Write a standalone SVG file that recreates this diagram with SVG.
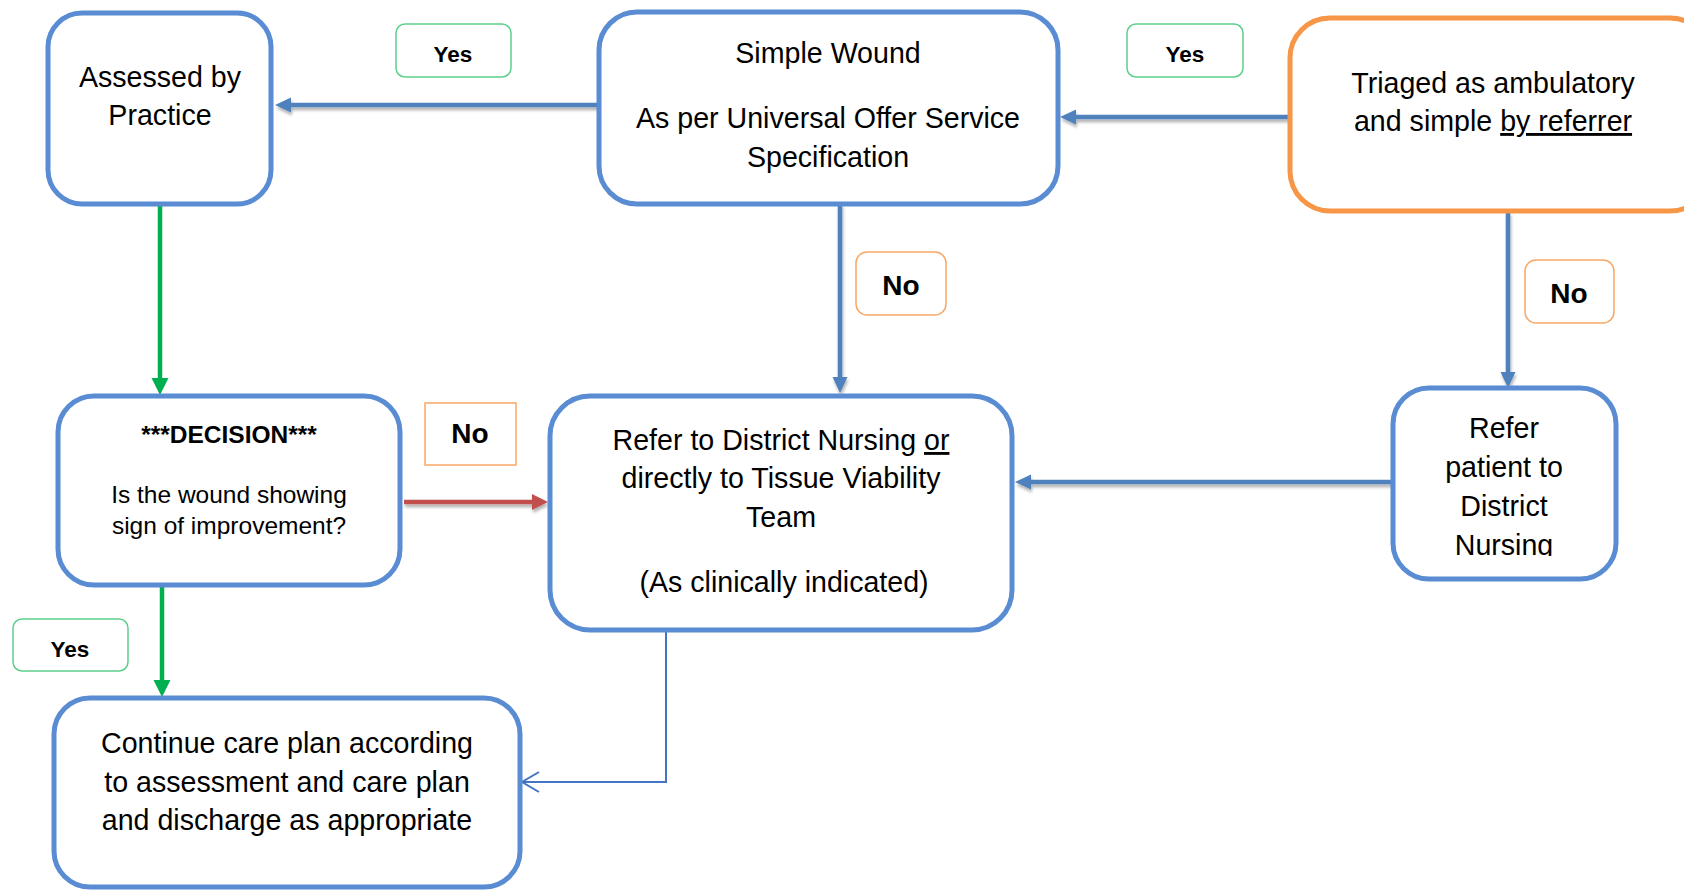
<svg xmlns="http://www.w3.org/2000/svg" width="1684" height="890" viewBox="0 0 1684 890">
<style>
.box{fill:#fff;stroke:#598CD3;stroke-width:5}
.obox{fill:#fff;stroke:#F79646;stroke-width:5}
.ylab{fill:#fff;stroke:#5CCF8C;stroke-width:1.5}
.nlab{fill:#fff;stroke:#F8A866;stroke-width:1.5}
.t{font-family:"Liberation Sans",Arial,sans-serif;font-size:28.6px;fill:#000;text-anchor:middle}
.ts{font-family:"Liberation Sans",Arial,sans-serif;font-size:24.5px;fill:#000;text-anchor:middle}
.tb{font-family:"Liberation Sans",Arial,sans-serif;font-weight:bold;fill:#000;text-anchor:middle}
.u{text-decoration:underline}
.cb{fill:none;stroke:#4F81BD;stroke-width:4.5}
.cg{fill:none;stroke:#00B050;stroke-width:4.5}
.cr{fill:none;stroke:#C0504D;stroke-width:4.5}
.ct{fill:none;stroke:#4472C4;stroke-width:2}
</style>
<defs>
<filter id="sh" filterUnits="userSpaceOnUse" x="0" y="0" width="1684" height="890">
<feDropShadow dx="1" dy="3" stdDeviation="1.5" flood-color="#000" flood-opacity="0.3"/>
</filter>
<marker id="ab" markerUnits="userSpaceOnUse" markerWidth="17" markerHeight="16" refX="6" refY="8" orient="auto" viewBox="0 0 17 16"><path d="M0,0.5 L16,8 L0,15.5 z" fill="#4F81BD"/></marker>
<marker id="ag" markerUnits="userSpaceOnUse" markerWidth="18" markerHeight="18" refX="6" refY="9" orient="auto" viewBox="0 0 18 18"><path d="M0,0.5 L17,9 L0,17.5 z" fill="#00B050"/></marker>
<marker id="ar" markerUnits="userSpaceOnUse" markerWidth="17" markerHeight="17" refX="6" refY="8.5" orient="auto" viewBox="0 0 17 17"><path d="M0,0.5 L16,8.5 L0,16.5 z" fill="#C0504D"/></marker>
<marker id="ao" markerUnits="userSpaceOnUse" markerWidth="20" markerHeight="26" refX="18" refY="13" orient="auto" viewBox="0 0 20 26"><path d="M1,3 L18,13 L1,23" fill="none" stroke="#4472C4" stroke-width="2"/></marker>
<clipPath id="clipN"><rect x="1390" y="380" width="230" height="176"/></clipPath>
</defs>

<g id="connectors">
<line class="cb" filter="url(#sh)" x1="599" y1="105" x2="285" y2="105" marker-end="url(#ab)"/>
<line class="cb" filter="url(#sh)" x1="1289" y1="117" x2="1070" y2="117" marker-end="url(#ab)"/>
<line class="cb" filter="url(#sh)" x1="840" y1="204" x2="840" y2="383" marker-end="url(#ab)"/>
<line class="cb" filter="url(#sh)" x1="1508" y1="212" x2="1508" y2="378" marker-end="url(#ab)"/>
<line class="cb" filter="url(#sh)" x1="1393" y1="482" x2="1025" y2="482" marker-end="url(#ab)"/>
<line class="cg" x1="160" y1="204" x2="160" y2="384" marker-end="url(#ag)"/>
<line class="cr" filter="url(#sh)" x1="404" y1="502" x2="538" y2="502" marker-end="url(#ar)"/>
<line class="cg" x1="162" y1="585" x2="162" y2="686" marker-end="url(#ag)"/>
<polyline class="ct" points="666,630 666,782 522,782" marker-end="url(#ao)"/>
</g>

<g id="node-assessed">
<rect class="box" x="48" y="13" width="223" height="191" rx="34"/>
<text class="t" x="160" y="87">Assessed by</text>
<text class="t" x="160" y="125">Practice</text>
</g>

<g id="node-simple">
<rect class="box" x="599" y="12" width="459" height="192" rx="38"/>
<text class="t" x="828" y="63">Simple Wound</text>
<text class="t" x="828" y="128">As per Universal Offer Service</text>
<text class="t" x="828" y="167">Specification</text>
</g>

<g id="node-triaged">
<rect class="obox" x="1290" y="18" width="420" height="193" rx="40"/>
<text class="t" x="1493" y="93">Triaged as ambulatory</text>
<text class="t" x="1493" y="131">and simple <tspan class="u">by referrer</tspan></text>
</g>

<g id="node-decision">
<rect class="box" x="58" y="396" width="342" height="189" rx="36"/>
<text class="tb" x="229" y="443" font-size="24.5">***DECISION***</text>
<text class="ts" x="229" y="503">Is the wound showing</text>
<text class="ts" x="229" y="534">sign of improvement?</text>
</g>

<g id="node-refer-dn">
<rect class="box" x="550" y="396" width="462" height="234" rx="40"/>
<text class="t" x="781" y="450">Refer to District Nursing <tspan class="u">or</tspan></text>
<text class="t" x="781" y="488">directly to Tissue Viability</text>
<text class="t" x="781" y="527">Team</text>
<text class="t" x="784" y="592">(As clinically indicated)</text>
</g>

<g id="node-refer-patient">
<rect class="box" x="1393" y="388" width="223" height="191" rx="36"/>
<g clip-path="url(#clipN)">
<text class="t" x="1504" y="438">Refer</text>
<text class="t" x="1504" y="477">patient to</text>
<text class="t" x="1504" y="516">District</text>
<text class="t" x="1504" y="555">Nursing</text>
</g>
</g>

<g id="node-continue">
<rect class="box" x="54" y="698" width="466" height="189" rx="36"/>
<text class="t" x="287" y="753">Continue care plan according</text>
<text class="t" x="287" y="792">to assessment and care plan</text>
<text class="t" x="287" y="830">and discharge as appropriate</text>
</g>

<g id="label-yes-1">
<rect class="ylab" x="396" y="24" width="115" height="53" rx="9"/>
<text class="tb" x="453" y="62" font-size="22.5">Yes</text>
</g>
<g id="label-yes-2">
<rect class="ylab" x="1127" y="24" width="116" height="53" rx="9"/>
<text class="tb" x="1185" y="62" font-size="22.5">Yes</text>
</g>
<g id="label-no-1">
<rect class="nlab" x="856" y="252" width="90" height="63" rx="11"/>
<text class="tb" x="901" y="295" font-size="28">No</text>
</g>
<g id="label-no-2">
<rect class="nlab" x="1525" y="260" width="89" height="63" rx="11"/>
<text class="tb" x="1569" y="303" font-size="28">No</text>
</g>
<g id="label-no-3">
<rect class="nlab" x="425" y="403" width="91" height="62"/>
<text class="tb" x="470" y="443" font-size="28">No</text>
</g>
<g id="label-yes-3">
<rect class="ylab" x="13" y="619" width="115" height="52" rx="9"/>
<text class="tb" x="70" y="657" font-size="22.5">Yes</text>
</g>
</svg>
